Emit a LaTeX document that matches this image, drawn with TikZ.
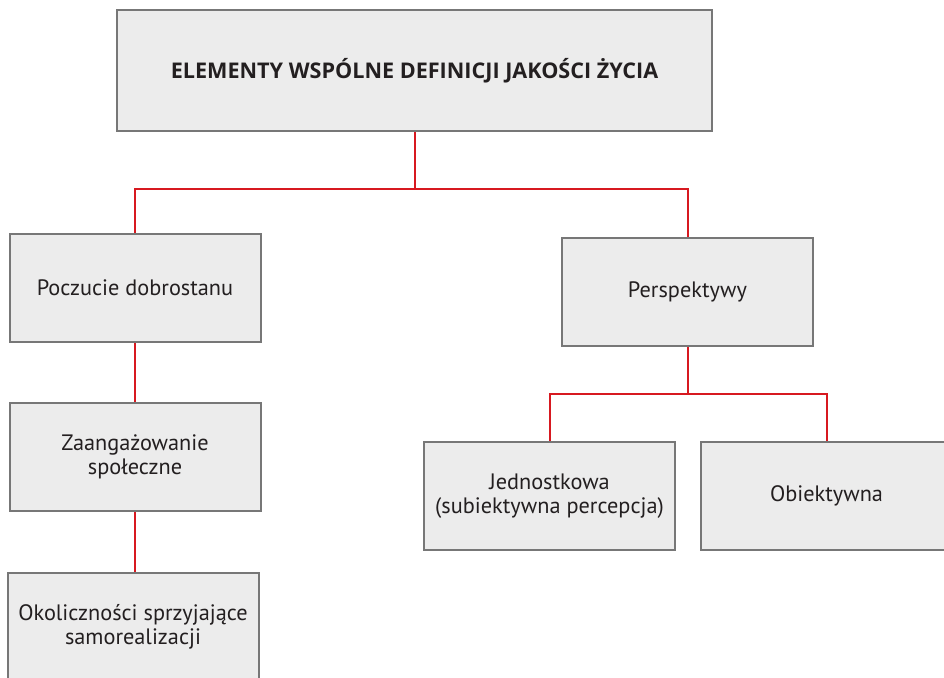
\documentclass[tikz,border=0pt]{standalone}
\usepackage{fontspec}
\setmainfont{PT Sans}
\newfontfamily\titlefont{Open Sans}
\usepackage{tikz}
\usetikzlibrary{positioning,calc}
\usepackage{xcolor}
\definecolor{BoxFill}{HTML}{ECECEC}
\definecolor{BoxLine}{HTML}{777777}
\definecolor{LinkRed}{HTML}{D71920}
\definecolor{InkGrey}{HTML}{231F20}

\begin{document}
\begin{tikzpicture}[x=1pt,y=-1pt,
    box/.style={draw=BoxLine,line width=2pt,fill=BoxFill,text=InkGrey,align=center,
      minimum width=251pt,minimum height=108pt,inner sep=0pt,
      font=\fontsize{22.3}{23.5}\selectfont},
    link/.style={draw=LinkRed,line width=2pt}]
  \useasboundingbox (0,0) rectangle (944,677);
  \clip (0,0) rectangle (944,677);
  % boxes
  \node[box,minimum width=595pt,minimum height=121pt,font=\titlefont\fontsize{21.6}{24}\selectfont\bfseries] (top) at (414.5,70.5) {ELEMENTY WSPÓLNE DEFINICJI JAKOŚCI ŻYCIA};
  \node[box] (pocz) at (135,288) {Poczucie dobrostanu};
  \node[box] (zaang) at (135,457) {Zaangażowanie\\społeczne};
  \node[box] (okol) at (133,627) {Okoliczności sprzyjające\\samorealizacji};
  \node[box] (persp) at (687.5,292) {Perspektywy};
  \node[box] (jedn) at (549.5,496) {Jednostkowa\\(subiektywna percepcja)};
  \node[box] (obiek) at (826.5,496) {Obiektywna};
  % connectors
  \coordinate (split1) at ($(top.south)+(0,57)$);
  \coordinate (split2) at ($(persp.south)+(0,47)$);
  \draw[link] (top.south) -- (split1) -| (pocz.north);
  \draw[link] (split1) -| (persp.north);
  \draw[link] (pocz.south) -- (zaang.north);
  \draw[link] (zaang.south) -- (zaang.south |- okol.north);
  \draw[link] (persp.south) -- (split2) -| (jedn.north);
  \draw[link] (split2) -| (obiek.north);
\end{tikzpicture}
\end{document}
